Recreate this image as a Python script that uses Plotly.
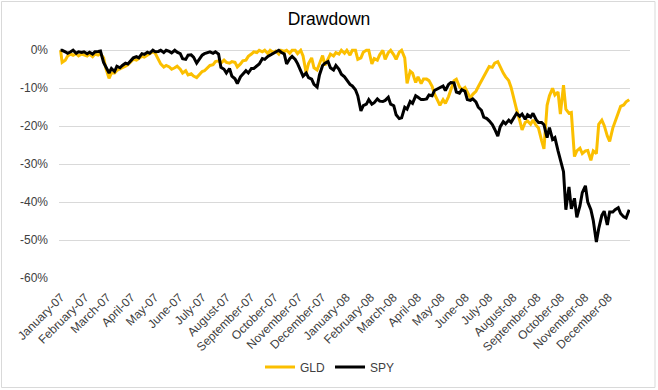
import pandas as pd
import plotly.graph_objects as go

# ---- data ---------------------------------------------------------------
series_names = ["GLD", "SPY"]
month_labels = [
    "January-07", "February-07", "March-07", "April-07", "May-07", "June-07",
    "July-07", "August-07", "September-07", "October-07", "November-07", "December-07",
    "January-08", "February-08", "March-08", "April-08", "May-08", "June-08",
    "July-08", "August-08", "September-08", "October-08", "November-08", "December-08",
]
y_tick_vals = [0, -10, -20, -30, -40, -50, -60]
y_tick_text = ["0%", "-10%", "-20%", "-30%", "-40%", "-50%", "-60%"]

# sample dates: start day, then every Tuesday and Friday
start_date = pd.Timestamp("2007-01-03")
tuesdays = pd.date_range("2007-01-05", "2008-12-30", freq="W-TUE")
fridays = pd.date_range("2007-01-05", "2008-12-30", freq="W-FRI")
dates = [start_date] + sorted(list(tuesdays) + list(fridays))

# drawdown in percent (one line per month)
spy_pct = [0,
    0, -0.4, -0.8, -0.4, 0, -0.8, -0.4, -0.6,                 # Jan-07
    -0.4, -0.9, -0.5, -1.0, -0.4, -0.3, -0.2, -3.2,           # Feb-07
    -4.6, -6.0, -4.8, -5.6, -4.2, -4.6, -4.0, -3.4, -3.6,     # Mar-07
    -2.6, -2.0, -1.7, -2.0, -0.9, -1.1, -0.5, -0.8,           # Apr-07
    0, -0.4, -0.3, 0, -0.6, 0, -0.3, -0.7, 0,                 # May-07
    -0.5, -0.9, -2.2, -2.4, -1.3, -1.2, -1.8, -3.4, -2.6,     # Jun-07
    -1.3, -0.9, -0.5, -0.4, -0.8, -0.4, -1.0, -4.5, -5.0,     # Jul-07
    -6.0, -4.8, -6.8, -7.5, -8.8, -7.0, -6.4, -5.4, -6.0,     # Aug-07
    -4.8, -4.8, -4.0, -3.6, -2.2, -2.4, -1.6, -1.3,           # Sep-07
    -0.8, -0.4, 0, -0.5, -1.0, -3.6, -2.2, -1.6, -2.4,        # Oct-07
    -3.5, -5.5, -6.8, -6.0, -7.2, -7.6, -9.0, -9.7, -6.5,     # Nov-07
    -4.0, -3.4, -3.0, -4.6, -5.2, -4.0, -5.0, -6.3,           # Dec-07
    -7.0, -8.0, -9.0, -9.4, -10.4, -12.0, -16.0, -14.6, -14.2,  # Jan-08
    -13.0, -14.2, -13.8, -12.8, -13.4, -13.5, -13.2, -12.4, -14.2,  # Feb-08
    -14.6, -17.0, -18.0, -17.8, -15.0, -15.5, -13.5, -14.0,   # Mar-08
    -12.0, -12.4, -13.0, -13.0, -12.8, -11.8, -12.0, -10.6, -10.2,  # Apr-08
    -10.0, -9.4, -10.6, -9.0, -8.5, -8.6, -11.0, -11.3, -10.4,  # May-08
    -10.8, -13.0, -13.2, -12.8, -13.6, -15.0, -15.8, -17.6,   # Jun-08
    -18.0, -18.6, -19.6, -20.8, -22.6, -20.2, -18.8, -19.4, -18.4,  # Jul-08
    -19.0, -17.6, -16.6, -17.4, -16.8, -18.2, -17.0, -17.6, -16.6,  # Aug-08
    -18.3, -19.0, -19.0, -19.6, -23.0, -20.4, -23.5, -23.0, -26.5,  # Sep-08
    -29.0, -32.0, -42.0, -36.0, -41.8, -39.0, -44.0, -41.0, -37.5,  # Oct-08
    -35.7, -40.0, -42.0, -44.8, -50.5, -47.0, -43.5, -42.4,   # Nov-08
    -46.0, -42.6, -42.6, -42.0, -41.5, -43.0, -43.9, -44.2, -42.0,  # Dec-08
]

gld_pct = [0,
    -3.2, -2.6, -1.5, -1.0, -1.3, -0.9, -1.5, -1.0,           # Jan-07
    -1.3, -1.5, -1.0, -1.7, -1.0, -1.3, -0.9, -2.0,           # Feb-07
    -4.8, -7.4, -6.0, -6.0, -5.3, -4.8, -4.6, -4.2, -3.8,     # Mar-07
    -3.0, -2.4, -2.6, -2.2, -1.6, -1.8, -1.3, -0.9,           # Apr-07
    -0.4, -0.8, -2.6, -3.6, -4.4, -4.0, -4.4, -5.0, -4.6,     # May-07
    -4.2, -5.0, -6.0, -5.4, -6.5, -6.2, -6.8, -7.2, -6.6,     # Jun-07
    -5.6, -5.4, -4.6, -4.0, -3.8, -3.0, -2.8, -3.4, -2.6,     # Jul-07
    -3.2, -3.4, -3.0, -3.2, -4.4, -3.6, -2.8, -2.6, -1.6,     # Aug-07
    -1.0, -0.4, -0.6, 0, -0.4, 0, -0.9, 0,                    # Sep-07
    -0.6, -0.2, -1.0, 0, -0.3, 0, -0.8, 0, 0,                 # Oct-07
    -0.9, 0, -1.5, -6.0, -3.5, -2.0, -4.6, -5.2, -3.5,        # Nov-07
    -1.4, -4.0, -2.5, -1.0, -1.5, -0.6, -1.0, 0,              # Dec-07
    -0.8, 0, -1.3, 0, 0, -2.4, -2.0, -0.5, 0,                 # Jan-08
    0, -3.6, -2.2, -2.6, -1.2, 0, -2.4, -0.6, 0,              # Feb-08
    -1.2, -2.4, -0.5, 0, -2.0, -8.7, -5.5, -6.0,              # Mar-08
    -8.5, -7.0, -8.8, -7.6, -7.6, -8.0, -9.5, -11.5, -13.2,   # Apr-08
    -14.5, -13.0, -14.0, -12.2, -10.6, -8.0, -7.6, -9.6, -10.4,  # May-08
    -9.8, -11.0, -12.6, -11.6, -10.8, -9.6, -8.0, -7.2,       # Jun-08
    -5.5, -4.3, -4.5, -3.4, -3.0, -4.4, -6.0, -7.0, -8.0,     # Jul-08
    -9.8, -13.5, -15.6, -18.5, -21.0, -19.0, -18.6, -19.5, -18.4,  # Aug-08
    -19.8, -20.5, -23.8, -26.0, -14.5, -12.0, -10.0, -11.8, -11.0,  # Sep-08
    -16.8, -9.2, -15.5, -16.6, -16.4, -28.0, -26.5, -25.8, -27.2,  # Oct-08
    -26.5, -26.4, -29.0, -26.5, -27.2, -19.5, -18.4, -19.8,   # Nov-08
    -22.6, -24.0, -20.5, -18.8, -16.3, -14.8, -14.4, -13.6, -13.0,  # Dec-08
]

# ---- figure -------------------------------------------------------------
FONT = "Liberation Sans, Arial, sans-serif"
W, H = 658, 390
ML, MR, MT, MB = 59, 28, 48, 112
PW, PH = W - ML - MR, H - MT - MB

n = min(len(dates), len(spy_pct), len(gld_pct))

x_start, x_end = pd.Timestamp("2007-01-01"), pd.Timestamp("2008-12-31")
month_ticks = list(pd.date_range(x_start, periods=len(month_labels), freq="MS"))

fig = go.Figure()
fig.add_trace(go.Scatter(x=dates[:n], y=gld_pct[:n], name=series_names[0], mode="lines",
                         line=dict(color="#FBBF00", width=3)))
fig.add_trace(go.Scatter(x=dates[:n], y=spy_pct[:n], name=series_names[1], mode="lines",
                         line=dict(color="#000000", width=3)))

# outer chart border
fig.add_shape(type="rect", xref="paper", yref="paper",
              x0=(1.5 - ML) / PW, x1=(W - 3 - ML) / PW,
              y0=(MT + PH - (H - 2.5)) / PH, y1=(MT + PH - 1.5) / PH,
              line=dict(color="#D9D9D9", width=1), layer="below")

fig.update_layout(
    width=W, height=H,
    margin=dict(l=ML, r=MR, t=MT, b=MB, autoexpand=False),
    paper_bgcolor="white", plot_bgcolor="white",
    font=dict(family=FONT, size=12, color="#404040"),
    title=dict(text="Drawdown", x=0.5, xref="container", xanchor="center",
               y=1 - 19 / H, yref="container", yanchor="middle",
               font=dict(family=FONT, size=17.5, color="#000000")),
    showlegend=True,
    legend=dict(orientation="h", xref="container", x=330 / W, xanchor="center",
                yref="container", y=(H - 367) / H, yanchor="middle",
                font=dict(family=FONT, size=12, color="#404040"),
                bgcolor="rgba(0,0,0,0)"),
    xaxis=dict(type="date", range=[x_start, x_end], automargin=False,
               tickvals=month_ticks, ticktext=month_labels,
               tickangle=-45, ticklabelshift=2, ticklabelstandoff=9,
               ticklabeloverflow="allow",
               showgrid=False, zeroline=False, showline=False,
               ticks="", tickfont=dict(family=FONT, size=12, color="#404040")),
    yaxis=dict(range=[-60, 0.6], tickvals=y_tick_vals, ticktext=y_tick_text,
               automargin=False,
               showgrid=True, gridcolor="#D9D9D9", gridwidth=1,
               zeroline=False, showline=False, ticks="",
               ticklabelstandoff=10,
               tickfont=dict(family=FONT, size=12, color="#404040")),
)

fig.write_html("out.html", config={"displayModeBar": False},
               post_script="document.body.style.margin='0px';document.body.style.padding='0px';")
